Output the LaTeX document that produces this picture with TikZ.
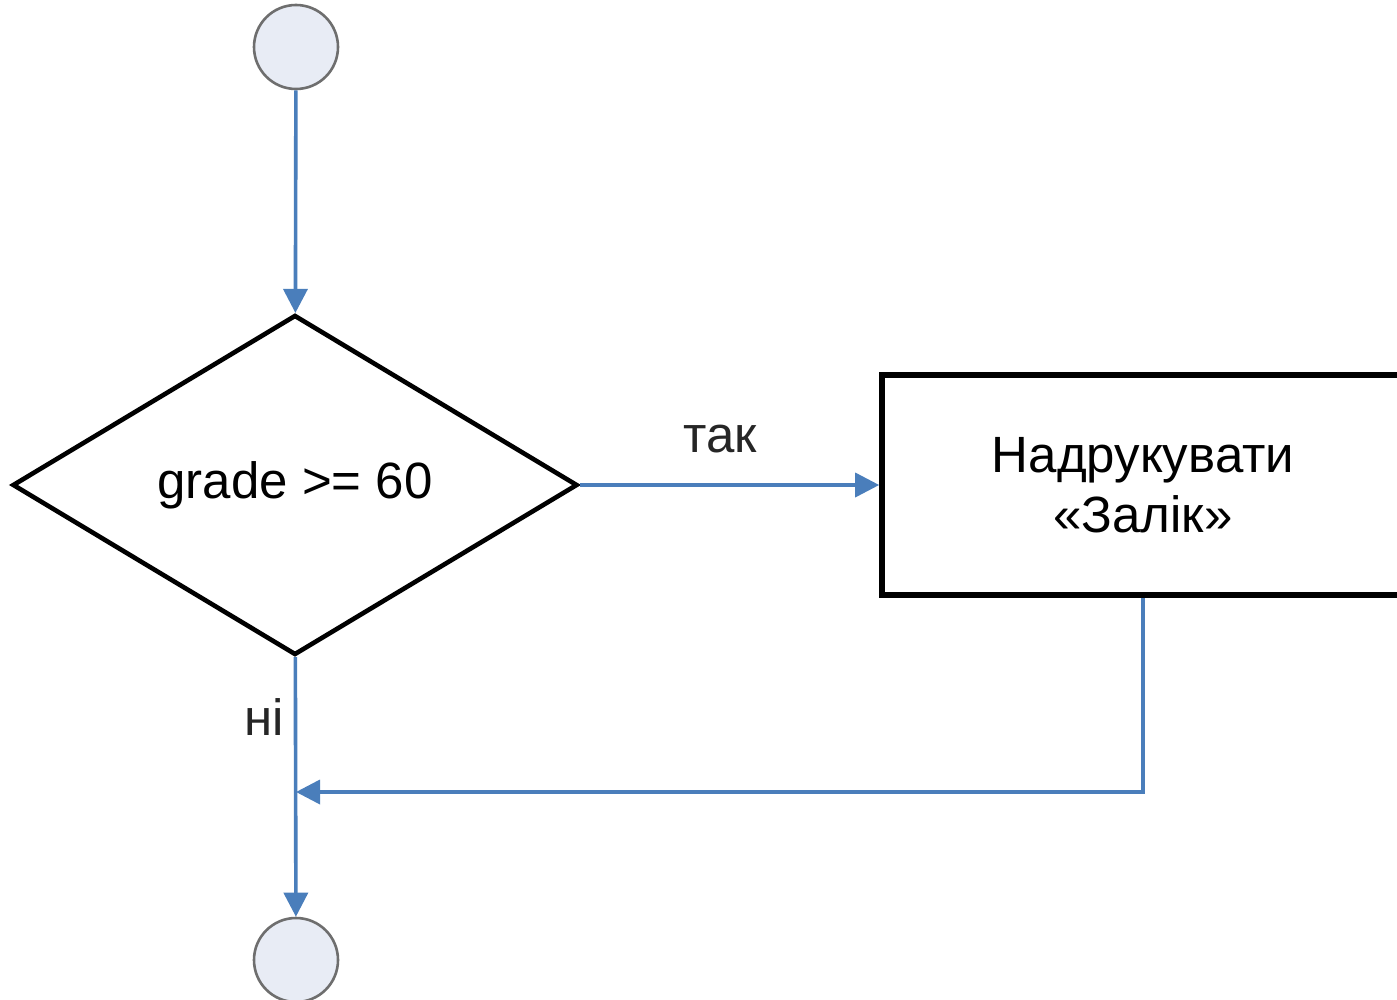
\documentclass[tikz,border=0pt]{standalone}
\usepackage{fontspec}
\setmainfont{Liberation Sans}
\usepackage{tikz}
\usetikzlibrary{positioning,shapes.geometric,arrows.meta}

\definecolor{flowblue}{RGB}{74,126,187}
\definecolor{termfill}{RGB}{232,236,245}
\definecolor{termline}{RGB}{110,110,110}

\tikzset{
  term/.style={circle,draw=termline,fill=termfill,line width=1.3pt,minimum size=42pt,inner sep=0pt},
  cond/.style={diamond,draw=black,line width=2.3pt,aspect=1.66,minimum width=282.5pt,minimum height=170pt,inner sep=0pt},
  act/.style={rectangle,draw=black,line width=2.8pt,minimum width=261pt,minimum height=110pt,align=center},
  flow/.style={draw=flowblue,line width=1.8pt,-{Triangle[length=12pt,width=12pt]}},
  lbl/.style={inner sep=0pt,text=black!85}
}

\begin{document}
\begin{tikzpicture}[x=0.5pt,y=0.5pt,yscale=-1,xscale=1,
    every node/.style={font=\fontsize{25.5}{30}\selectfont}]
            \useasboundingbox (0,0) rectangle (1397,1000);
            % Terminals
            \node [term] (start) at (296,47) {};
            \node [term] (stop) at (296,960) {};
            % Decision
            \node [cond] (check) at (295,485) {grade >= 60};
            % Action
            \node [act] (print) at (1143,485) {Надрукувати\\«Залік»};
            %Join point
            \coordinate (merge) at (296,792);
            %Straight Lines
            \draw [flow] (start) -- (check);
            \draw [flow] (check) -- node [lbl,above=15pt,pos=0.47] {так} (print);
            \draw [flow] (check) -- node [lbl,left=5pt,pos=0.23] {ні} (stop);
            \draw [flow] (print.south) |- (merge);
\end{tikzpicture}
\end{document}
